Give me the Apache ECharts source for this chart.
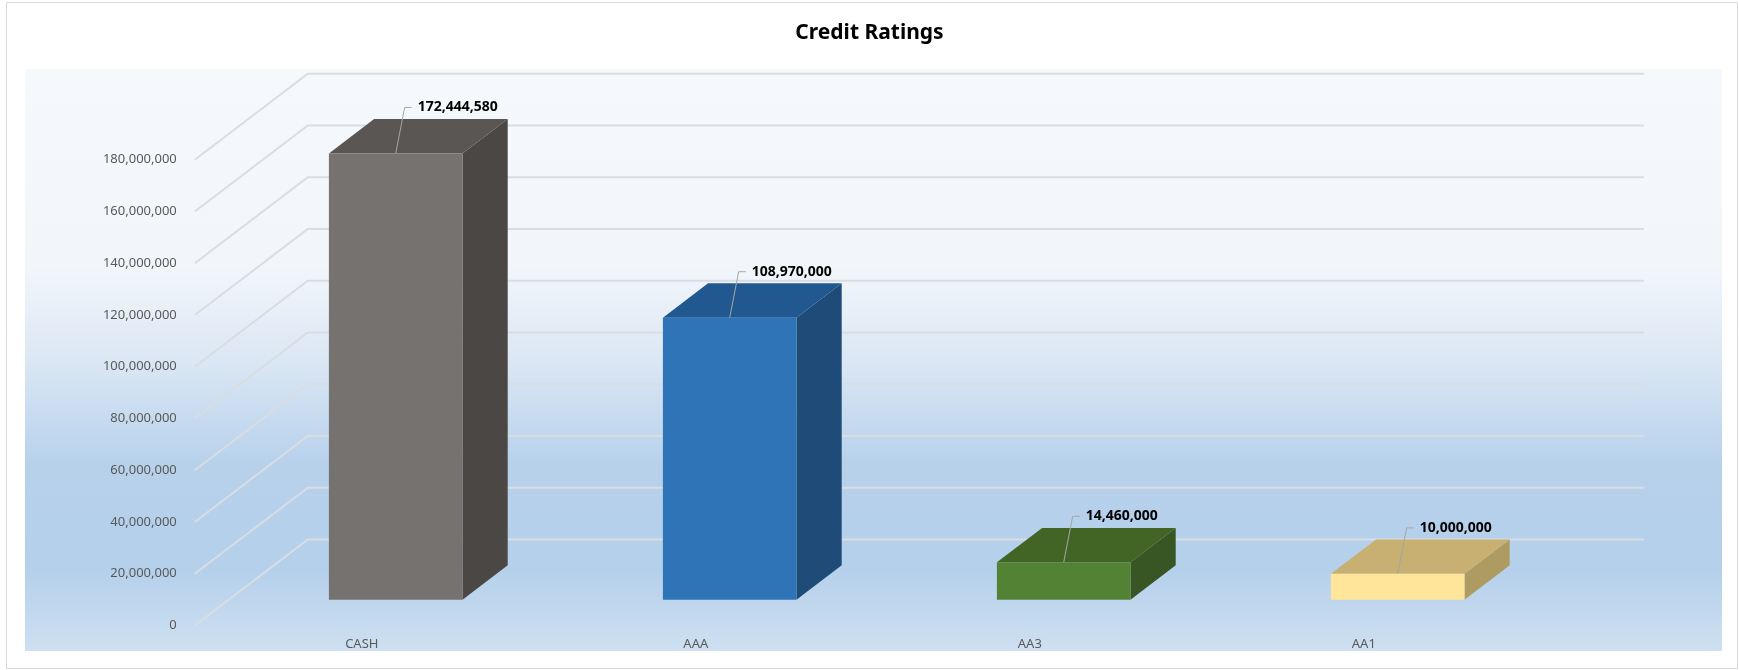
<!DOCTYPE html>
<html>
<head>
<meta charset="utf-8">
<script src="https://cdn.jsdelivr.net/npm/echarts@6.0.0/dist/echarts.min.js"></script>
<style>
html,body{margin:0;padding:0;background:#ffffff;}
#chart{width:1739px;height:670px;}
</style>
</head>
<body>
<div id="chart"></div>
<script>
// ---- data ----
const categories = ['CASH', 'AAA', 'AA3', 'AA1'];
const values = [172444580, 108970000, 14460000, 10000000];
const yTicks = [0, 20000000, 40000000, 60000000, 80000000, 100000000, 120000000, 140000000, 160000000, 180000000];
const titleText = 'Credit Ratings';

// ---- styles ----
const faceColors = [
  { front: '#76726f', top: '#5a5653', side: '#4b4744' },
  { front: '#2e74b7', top: '#215890', side: '#1f4b78' },
  { front: '#548235', top: '#426526', side: '#375624' },
  { front: '#ffe599', top: '#c7b072', side: '#ae9b62' }
];
const DX = 113, DY = -86;        // depth vector of the 3D box (pixels)
const BAR_FRAC = 0.4;             // bar width as fraction of band
const FONT = '"Noto Sans", "Open Sans", sans-serif';

function fmt(v) { return String(v).replace(/\B(?=(\d{3})+(?!\d))/g, ','); }

const chart = echarts.init(document.getElementById('chart'), null, { renderer: 'canvas' });

function renderWall(params, api) {
  const v = api.value(0);
  const cs = params.coordSys;
  const y = api.coord([0, v])[1];
  const xl = cs.x, xr = cs.x + cs.width;
  return {
    type: 'polyline',
    shape: { points: [[xl, y], [xl + DX, y + DY], [xr + DX, y + DY]] },
    style: { stroke: '#d9dde2', lineWidth: 2, fill: null },
    silent: true
  };
}

function renderBar(params, api) {
  const i = api.value(0), v = api.value(1);
  const base = api.coord([i, 0]);
  const top = api.coord([i, v]);
  const bw = api.size([1, 0])[0] * BAR_FRAC;
  const ox = DX * 0.3, oy = DY * 0.3;
  const dx = DX * 0.4, dy = DY * 0.4;
  const x0 = base[0] - bw / 2 + ox, x1 = x0 + bw;
  const yb = base[1] + oy, yt = top[1] + oy;
  const c = faceColors[i];
  const cx = (x0 + x1) / 2;
  const ly = yt - 46;
  return {
    type: 'group',
    children: [
      { type: 'polygon', shape: { points: [[x1, yt], [x1 + dx, yt + dy], [x1 + dx, yb + dy], [x1, yb]] }, style: { fill: c.side } },
      { type: 'polygon', shape: { points: [[x0, yt], [x1, yt], [x1 + dx, yt + dy], [x0 + dx, yt + dy]] }, style: { fill: c.top } },
      { type: 'rect', shape: { x: x0, y: yt, width: bw, height: yb - yt }, style: { fill: c.front } },
      { type: 'polyline', shape: { points: [[cx, yt], [cx + 9, ly], [cx + 16, ly]] }, style: { stroke: '#a6a6a6', lineWidth: 1, fill: null } },
      { type: 'text', x: cx + 22, y: ly, style: { text: fmt(v), fill: '#000000', font: 'bold 14px ' + FONT, verticalAlign: 'middle', align: 'left' } }
    ]
  };
}

const option = {
  animation: false,
  backgroundColor: '#ffffff',
  title: {
    text: titleText,
    left: 'center',
    top: 18,
    textStyle: { fontFamily: FONT, fontSize: 21, fontWeight: 'bold', color: '#000000' }
  },
  graphic: [
    { type: 'rect', z: -10, shape: { x: 6.5, y: 2.5, width: 1731, height: 666 }, style: { fill: null, stroke: '#d9d9d9', lineWidth: 1 } },
    { type: 'rect', z: -10, shape: { x: 25, y: 69, width: 1697, height: 582 },
      style: { fill: new echarts.graphic.LinearGradient(0, 0, 0, 1, [
        { offset: 0, color: '#f5f8fc' },
        { offset: 0.34, color: '#f2f6fb' },
        { offset: 0.5, color: '#dbe7f4' },
        { offset: 0.68, color: '#b7d1eb' },
        { offset: 0.86, color: '#b5d0eb' },
        { offset: 1, color: '#cee0f1' }
      ]) } }
  ],
  grid: { left: 194.8, right: 208.2, top: 159.7, bottom: 44.5, containLabel: false },
  xAxis: {
    type: 'category',
    data: categories,
    axisLine: { show: false },
    axisTick: { show: false },
    splitLine: { show: false },
    axisLabel: { color: '#595959', fontFamily: FONT, fontSize: 13, margin: 12 }
  },
  yAxis: {
    type: 'value',
    min: 0,
    max: 180000000,
    interval: 20000000,
    axisLine: { show: false },
    axisTick: { show: false },
    splitLine: { show: false },
    axisLabel: { color: '#595959', fontFamily: FONT, fontSize: 13, margin: 18, formatter: fmt }
  },
  series: [
    {
      type: 'custom',
      renderItem: renderWall,
      data: yTicks.map(v => [v]),
      encode: { y: 0 },
      z: 1,
      silent: true
    },
    {
      type: 'custom',
      renderItem: renderBar,
      data: values.map((v, i) => [i, v]),
      encode: { x: 0, y: 1 },
      z: 2
    }
  ]
};
chart.setOption(option);
</script>
</body>
</html>
